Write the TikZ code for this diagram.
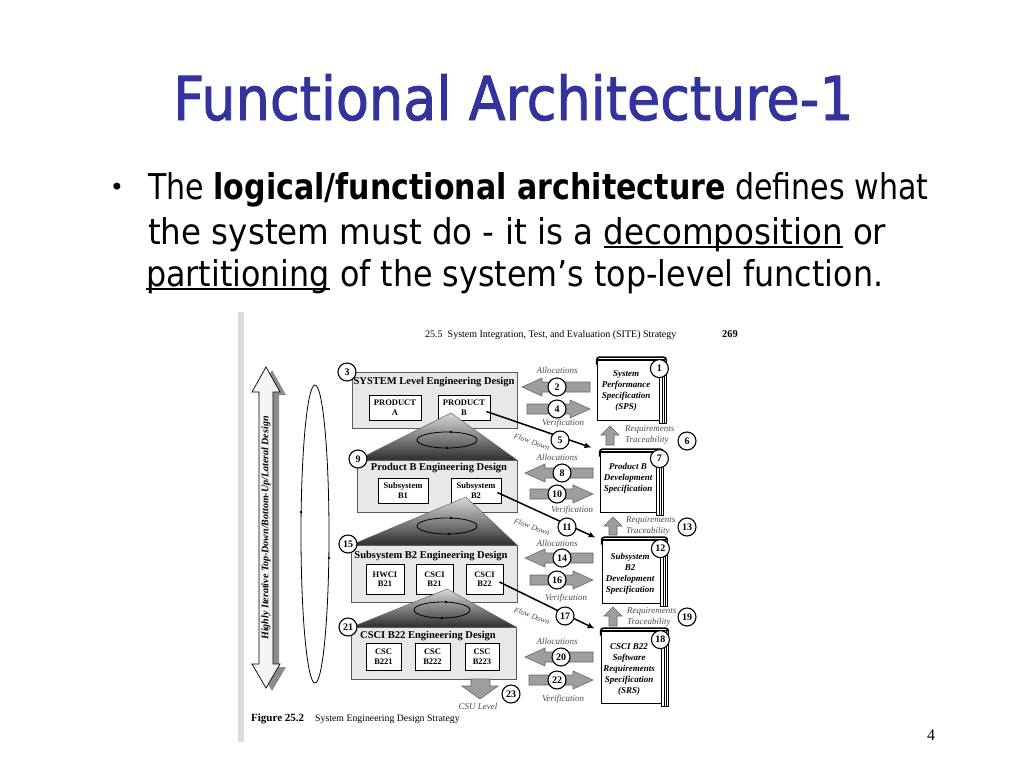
\documentclass[tikz,border=0pt]{standalone}
\usepackage{fontspec}
\setmainfont{Liberation Serif}
\newfontfamily\slidefont{DejaVu Sans}
\newfontfamily\titlefont[BoldFont={DejaVu Sans}, BoldFeatures={FakeBold=1.6}]{DejaVu Sans}
\usetikzlibrary{arrows.meta,calc}
\definecolor{titleblue}{RGB}{51,51,158}
\newcommand\myul[1]{\setbox0\hbox{#1}\rlap{\rule[-0.12em]{\wd0}{0.055em}}\box0\relax}
\newcommand\blkleft[3]{\filldraw[blk] (#1,#3) -- (#1+20,#3-9) -- (#1+20,#3-5) -- (#2,#3-5) -- (#2,#3+5) -- (#1+20,#3+5) -- (#1+20,#3+9) -- cycle;}
\newcommand\blkright[3]{\filldraw[blk] (#1,#3) -- (#1-20,#3-9) -- (#1-20,#3-5) -- (#2,#3-5) -- (#2,#3+5) -- (#1-20,#3+5) -- (#1-20,#3+9) -- cycle;}
\newcommand\blkup[3]{\filldraw[blk] (#1,#2) -- (#1+9,#2+9) -- (#1+4,#2+9) -- (#1+4,#3) -- (#1-4,#3) -- (#1-4,#2+9) -- (#1-9,#2+9) -- cycle;}
\newcommand\bookdeco[1]{%
  \filldraw[fill=white, draw=black, line width=0.6pt] ($(#1.north east)+(0,0)$) -- ($(#1.north east)+(7,0)$) -- ($(#1.south east)+(7,3)$) -- ($(#1.south east)+(0,3)$) -- cycle;
  \draw[line width=0.5pt] ($(#1.north east)+(2.5,0)$) -- ($(#1.south east)+(2.5,3)$);
  \draw[line width=0.5pt] ($(#1.north east)+(5,0)$) -- ($(#1.south east)+(5,3)$);
  \draw[line width=1.6pt, rounded corners=3pt] ($(#1.north west)+(0,5)$) -- ($(#1.north west)+(0,-2.5)$) -- ($(#1.north east)+(7,-2.5)$) -- ($(#1.north east)+(7,2)$);
  \draw[line width=0.8pt] (#1.north west) -- (#1.north east);}
\begin{document}
\begin{tikzpicture}[x=1pt,y=-1pt,
  lvbox/.style={draw=black!65, fill=black!9, line width=0.9pt},
  inbox/.style={draw=black, fill=white, line width=0.8pt, align=center, font=\fontsize{8.5}{9.5}\selectfont\bfseries, inner sep=0pt},
  num/.style={circle, draw=black, fill=white, line width=1.1pt, minimum size=18pt, inner sep=0pt, font=\fontsize{10}{10}\selectfont\bfseries},
  lbl/.style={font=\fontsize{9}{10.5}\selectfont\itshape, text=black!70, inner sep=0pt},
  ttl/.style={font=\fontsize{10.5}{11}\selectfont\bfseries, inner sep=0pt},
  bookframe/.style={draw=black, fill=white, line width=0.8pt, inner sep=0pt},
  booktext/.style={align=center, font=\fontsize{9}{11}\selectfont\bfseries\itshape, inner sep=0pt},
  blk/.style={draw=black!60, fill=black!38, line width=0.6pt},
  roof/.style={top color=black!15, bottom color=black!82, draw=black!60, line width=0.5pt},
  flow/.style={line width=1.5pt, -{Latex[length=7pt,width=6pt]}},
  loop/.style={draw=black, line width=0.8pt},
  fdl/.style={font=\fontsize{8}{8}\selectfont\itshape, text=black!70, inner sep=0pt, rotate=-20},
]
\useasboundingbox (0,0) rectangle (1024,768);
\fill[white] (0,0) rectangle (1024,768);

% ---------- slide text ----------
\node[anchor=base west, inner sep=0pt, text=titleblue] (title) at (173,120)
  {\resizebox{680pt}{46pt}{\titlefont\bfseries Functional Architecture-1}};
\node[inner sep=0pt] (bullet) at (117,189) {\fontsize{24}{24}\slidefont •};
\node[anchor=base west, inner sep=0pt] (t1) at (148,199)
  {\resizebox{780pt}{27pt}{\slidefont The \textbf{logical/functional architecture} defines what}};
\node[anchor=base west, inner sep=0pt] (t2) at (148,244)
  {\resizebox{738pt}{27pt}{\slidefont the system must do - it is a \myul{decomposition} or}};
\node[anchor=base west, inner sep=0pt] (t3) at (146,286)
  {\resizebox{737pt}{27pt}{\slidefont \myul{partitioning} of the system’s top-level function.}};
\node (pg) at (931,735) {\fontsize{16}{16}\selectfont 4};

% ---------- figure ----------
\fill[black!14] (238,312) rectangle (244,742);
\node[anchor=base west, inner sep=0pt, font=\fontsize{10}{10}\selectfont] (hdr) at (425,337)
  {25.5\enspace System Integration, Test, and Evaluation (SITE) Strategy};
\node[anchor=base west, inner sep=0pt, font=\fontsize{10.5}{10}\selectfont\bfseries] (hdrno) at (722,337) {269};

% left double arrow
\fill[black!45, shift={(6,3)}] (266,367) -- (280,392) -- (273,392) -- (273,664) -- (280,664) -- (266,688) -- (252,664) -- (259,664) -- (259,392) -- (252,392) -- cycle;
\filldraw[fill=black!4, draw=black, line width=0.7pt] (266,367) -- (280,392) -- (273,392) -- (273,664) -- (280,664) -- (266,688) -- (252,664) -- (259,664) -- (259,392) -- (252,392) -- cycle;
\node[rotate=90, inner sep=0pt, font=\fontsize{10}{10}\selectfont\bfseries\itshape] (itlab) at (266,528)
  {Highly Iterative Top-Down/Bottom-Up/Lateral Design};

% left loop ellipse
\draw[loop] (315,534) ellipse [x radius=14, y radius=149];
\fill (301,512) circle (1.4);
\fill (329,558) circle (1.4);

% level 1
\node[lvbox, anchor=north west, minimum width=165, minimum height=56, inner sep=0pt] (l1) at (352,372) {};
\node[ttl] (l1t) at (434,382) {SYSTEM Level Engineering Design};
\node[inbox, minimum width=52, minimum height=25] (pa) at (395,407.5) {PRODUCT\\A};
\node[inbox, minimum width=52, minimum height=25] (pb) at (464,407.5) {PRODUCT\\B};

% roof 2
\draw[roof] (357,460) -- (451,413) -- (517,460) -- cycle;
\draw[loop] (447,440) ellipse [x radius=30, y radius=8];
\fill (451,432) circle (1.3); \fill (447,448) circle (1.3);

% level 2
\node[lvbox, anchor=north west, minimum width=160, minimum height=52, inner sep=0pt] (l2) at (357,460) {};
\node[ttl] (l2t) at (439,468.5) {Product B Engineering Design};
\node[inbox, minimum width=50, minimum height=25] (sb1) at (403,490.5) {Subsystem\\B1};
\node[inbox, minimum width=50, minimum height=25] (sb2) at (476,490.5) {Subsystem\\B2};

% roof 3
\draw[roof] (351,545) -- (466,497) -- (517,545) -- cycle;
\draw[loop] (447,526) ellipse [x radius=30, y radius=8];
\fill (451,518) circle (1.3); \fill (449,534) circle (1.3);

% level 3
\node[lvbox, anchor=north west, minimum width=166, minimum height=57, inner sep=0pt] (l3) at (351,545) {};
\node[ttl] (l3t) at (431,556) {Subsystem B2 Engineering Design};
\node[inbox, minimum width=38, minimum height=30] (hw) at (385,579) {HWCI\\B21};
\node[inbox, minimum width=37, minimum height=30] (cs21) at (434.5,579) {CSCI\\B21};
\node[inbox, minimum width=37, minimum height=30] (cs22) at (484.5,579) {CSCI\\B22};

% roof 4
\draw[roof] (352,627) -- (447,589) -- (516,627) -- cycle;
\draw[loop] (442,610) ellipse [x radius=28, y radius=8];
\fill (446,602) circle (1.3); \fill (442,618) circle (1.3);

% level 4
\node[lvbox, anchor=north west, minimum width=165, minimum height=52, inner sep=0pt] (l4) at (351,627) {};
\node[ttl] (l4t) at (428,636.5) {CSCI B22 Engineering Design};
\node[inbox, minimum width=35, minimum height=27] (c221) at (383.5,656.5) {CSC\\B221};
\node[inbox, minimum width=35, minimum height=27] (c222) at (432.5,656.5) {CSC\\B222};
\node[inbox, minimum width=34, minimum height=27] (c223) at (482,656.5) {CSC\\B223};

% down arrow to CSU level
\filldraw[blk] (471,679) -- (490,679) -- (490,686) -- (498,686) -- (480,699) -- (462,686) -- (471,686) -- cycle;
\node[lbl] (csu) at (478,706) {CSU Level};

% books
\node[bookframe, minimum width=62, minimum height=60] (b1) at (628,390) {};
\bookdeco{b1}
\node[booktext] (b1t) at ($(b1.center)+(-2,1)$) {System\\Performance\\Specification\\(SPS)};
\node[bookframe, minimum width=56, minimum height=60] (b7) at (628,482) {};
\bookdeco{b7}
\node[booktext] (b7t) at ($(b7.center)+(0,-4)$) {Product B\\Development\\Specification};
\node[bookframe, minimum width=58, minimum height=63] (b12) at (631,571.5) {};
\bookdeco{b12}
\node[booktext] (b12t) at ($(b12.center)+(-1,2)$) {Subsystem\\B2\\Development\\Specification};
\node[bookframe, minimum width=60, minimum height=72] (b18) at (631,667) {};
\bookdeco{b18}
\node[booktext] (b18t) at ($(b18.center)+(-2,2)$) {CSCI B22\\Software\\Requirements\\Specification\\(SRS)};

% block arrows
\blkleft{522}{590}{387}
\blkright{590}{527}{409}
\blkleft{525}{593}{473}
\blkright{593}{530}{494}
\blkleft{525}{593}{558}
\blkright{593}{530}{580}
\blkleft{525}{593}{657}
\blkright{593}{529}{680}
\blkup{610}{426}{445}
\blkup{613}{517}{535}
\blkup{613}{607}{626}

% labels
\node[lbl] (al1) at (557,370) {Allocations};
\node[lbl] (al2) at (557,457) {Allocations};
\node[lbl] (al3) at (557,543) {Allocations};
\node[lbl] (al4) at (557,641) {Allocations};
\node[lbl] (ve1) at (563,423) {Verification};
\node[lbl] (ve2) at (572,510) {Verification};
\node[lbl] (ve3) at (566,598) {Verification};
\node[lbl] (ve4) at (563,699) {Verification};
\node[lbl, anchor=west, align=left] (rt1) at (625,435) {Requirements\\Traceability};
\node[lbl, anchor=west, align=left] (rt2) at (626,526) {Requirements\\Traceability};
\node[lbl, anchor=west, align=left] (rt3) at (627,617) {Requirements\\Traceability};
\node[fdl] (fd1) at (532,442) {Flow Down};
\node[fdl] (fd2) at (532,527) {Flow Down};
\node[fdl] (fd3) at (532,616) {Flow Down};

% flow-down connectors
\draw[flow] ($(pb.east)+(-4,4)$) -- ($(b7.north west)+(-8,-4)$);
\draw[flow] ($(sb2.east)+(-4,2)$) -- ($(b12.north west)+(-6,-2)$);
\draw[flow] ($(cs22.east)+(-4,3)$) -- ($(b18.north west)+(-6,-2)$);

% number circles
\node[num] (n1) at ($(b1.north east)+(0,9)$) {1};
\node[num] (n2) at (557,387) {2};
\node[num] (n3) at (347,372) {3};
\node[num] (n4) at (557,409) {4};
\node[num] (n5) at (560,440) {5};
\node[num] (n6) at (687,441) {6};
\node[num] (n7) at ($(b7.north east)+(3,7)$) {7};
\node[num] (n8) at (562,473) {8};
\node[num] (n9) at (358,459) {9};
\node[num] (n10) at (557,494) {10};
\node[num] (n11) at (567,527) {11};
\node[num] (n12) at ($(b12.north east)+(0,9)$) {12};
\node[num] (n13) at (687,527) {13};
\node[num] (n14) at (562,558) {14};
\node[num] (n15) at (348,544) {15};
\node[num] (n16) at (557,580) {16};
\node[num] (n17) at (565,616) {17};
\node[num] (n18) at ($(b18.north east)+(-1,9)$) {18};
\node[num] (n19) at (687,617) {19};
\node[num] (n20) at (561,657) {20};
\node[num] (n21) at (348,627) {21};
\node[num] (n22) at (557,680) {22};
\node[num] (n23) at (511,694) {23};

% caption
\node[anchor=base west, inner sep=0pt, font=\fontsize{11}{11}\selectfont\bfseries] (figno) at (251,721) {Figure 25.2};
\node[anchor=base west, inner sep=0pt, font=\fontsize{9.8}{10}\selectfont] (figcap) at (315,721) {System Engineering Design Strategy};
\end{tikzpicture}
\end{document}
